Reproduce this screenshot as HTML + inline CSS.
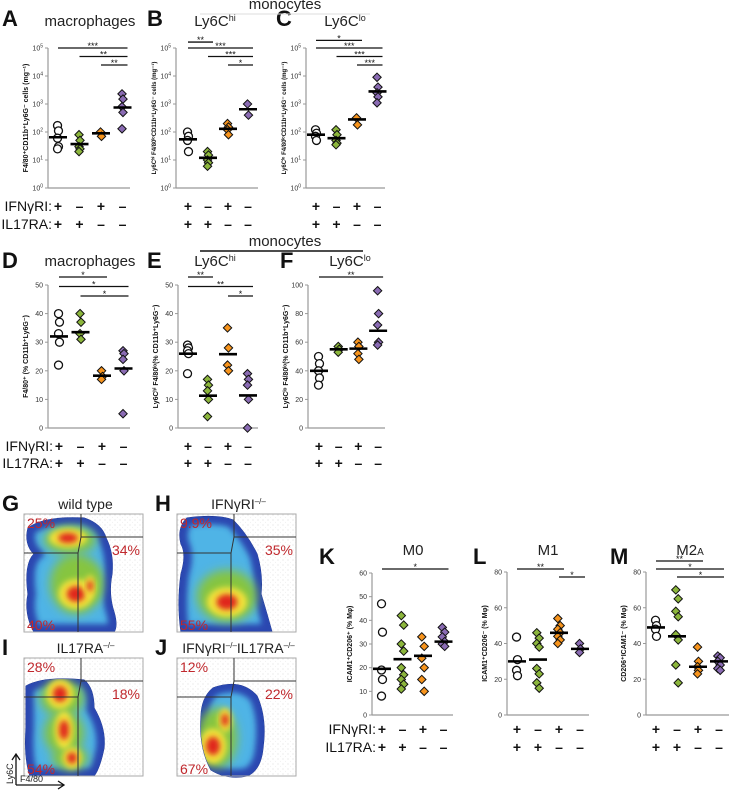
<!DOCTYPE html>
<html><head><meta charset="utf-8"><style>
html,body{margin:0;padding:0;background:#fff;}
svg{display:block;font-family:"Liberation Sans",Arial,sans-serif;}
</style></head><body>
<svg id="fig" width="738" height="793" viewBox="0 0 738 793" xmlns="http://www.w3.org/2000/svg">
<defs>
<filter id="blur3" x="-50%" y="-50%" width="200%" height="200%"><feGaussianBlur stdDeviation="3"/></filter>
<filter id="blur5" x="-50%" y="-50%" width="200%" height="200%"><feGaussianBlur stdDeviation="5"/></filter>
<pattern id="dots" width="5" height="5" patternUnits="userSpaceOnUse"><circle cx="1" cy="1" r="0.45" fill="#666"/><circle cx="3.5" cy="3.2" r="0.35" fill="#888"/></pattern>
</defs>
<g id="charts"></g>
<g id="flows"></g>
</svg>
<script>
// ---------- DATA ----------
var groups = ["wt","ifngr","il17ra","dko"];
var aWT=[170,110,60,30,25], aGr=[80,50,30,25,20], aOr=[100,70], aPu=[2300,1500,800,500,130];
var aMean=[65,37,90,750];
var bWT=[100,70,50,20], bGr=[20,15,10,8,6], bOr=[200,150,120,80], bPu=[1000,400];
var bMean=[55,12,130,650];
var cWT=[120,90,70,50], cGr=[120,80,50,40,35], cOr=[320,180], cPu=[9000,4000,2500,1800,1100];
var cMean=[80,60,280,2800];
var dWT=[40,37,33,30,22], dGr=[40,37,33,31], dOr=[20,18,17], dPu=[27,26,24,20,5];
var dMean=[32,33.5,18.3,20.8];
var eWT=[29,28,27,26,19], eGr=[17,15,13,10,4], eOr=[35,28,22,20], ePu=[19,17,15,10,0];
var eMean=[26,11.3,25.8,11.4];
var fWT=[50,45,40,35,30], fGr=[57,55,53], fOr=[60,57,52,48], fPu=[96,80,72,60,58];
var fMean=[40,55,55.5,68];
var kWT=[47,35,19,15,8], kGr=[42,38,30,27,20,17,15,13,11], kOr=[33,29,24,20,15,10], kPu=[37,35,33,31,30,29];
var kMean=[19.5,23.6,25,31];
var lWT=[43.6,31,25,22], lGr=[46,43,40,38,26,23,18,15], lOr=[54,50,48,46,44,42,40], lPu=[40,37,35];
var lMean=[30,31,46,37];
var mWT=[53,50,48,44], mGr=[70,65,58,55,45,42,28,18], mOr=[38,30,27,25,23], mPu=[33,32,30,28,26,25];
var mMean=[49,44,27,30];
var logTicks=[0,1,2,3,4,5];
var ticks50=[0,10,20,30,40,50], ticks100=[0,20,40,60,80,100], ticks60=[0,10,20,30,40,50,60], ticks80=[0,20,40,60,80];
var ifnRow=["+","–","+","–"], ilRow=["+","+","–","–"];
// significance: [from, to, label, level]
var sigA=[[0,3,"***",0],[1,3,"**",1],[2,3,"**",2]];
var sigB=[[0,1,"**",-0.7],[0,3,"***",0],[1,3,"***",1],[2,3,"*",2]];
var sigC=[[0,2,"*",-0.9],[0,3,"***",0],[1,3,"***",1],[2,3,"***",2]];
var sigD=[[0,2,"*",0],[0,3,"*",1],[1,3,"*",2]];
var sigE=[[0,1,"**",0],[0,3,"**",1],[2,3,"*",2]];
var sigF=[[0,3,"**",0]];
var sigK=[[0,3,"*",0]];
var sigL=[[0,2,"**",0],[2,3,"*",1]];
var sigM=[[0,2,"**",-1],[0,3,"*",0],[1,3,"*",1]];

var NS="http://www.w3.org/2000/svg";
var root=document.getElementById('charts');
var colors={wt:"#fff",ifngr:"#8cb63c",il17ra:"#f7941d",dko:"#8a6bb3"};
function mk(tag,attrs,parent,txt){var e=document.createElementNS(NS,tag);for(var k in attrs)e.setAttribute(k,attrs[k]);if(txt!==undefined)e.textContent=txt;(parent||root).appendChild(e);return e;}

function panel(cfg, series, means, sig){
  var g=mk('g',{});
  
  
  var ys;
  if(cfg.log){ys=function(v){var l=Math.log10(Math.max(v,1));return cfg.bottom-(l/5)*(cfg.bottom-cfg.top);};}
  else {ys=function(v){return cfg.bottom-(v/cfg.ymax)*(cfg.bottom-cfg.top);};}
  var xs=function(i){return cfg.cat0+i*cfg.step;};
  var ya=mk('line',{x1:cfg.ax,y1:cfg.top,x2:cfg.ax,y2:cfg.bottom,stroke:"#999","stroke-width":1.2},g);
  
  
  var xa=mk('line',{x1:cfg.ax,y1:cfg.bottom,x2:cfg.xend,y2:cfg.bottom,stroke:"#999","stroke-width":1.2},g);
  
  
  cfg.ticks.forEach(function(t){
    var y=cfg.log?ys(Math.pow(10,t)):ys(t);
    mk('line',{x1:cfg.ax-3,y1:y,x2:cfg.ax,y2:y,stroke:"#999","stroke-width":1},g);
    var tx=mk('text',{x:cfg.ax-5,y:y+2.5,"font-size":7,"text-anchor":"end",fill:"#333"},g);
    
    
    if(cfg.log){tx.textContent="10";mk('tspan',{"font-size":5,dy:-3},tx,String(t));}
    else tx.textContent=String(t);
  });
  var yt=mk('text',{transform:"translate("+(cfg.ax-20)+","+((cfg.top+cfg.bottom)/2)+") rotate(-90)","font-size":cfg.ytSize||7,"font-weight":"bold","text-anchor":"middle",fill:"#111"},g,cfg.ytitle);
  
  
  var tt=mk('text',{x:cfg.tx,y:cfg.ty,"font-size":15,"text-anchor":"middle",fill:"#222"},g,cfg.title);
  if(cfg.sup) mk('tspan',{"font-size":9,dy:-5},tt,cfg.sup);
  if(cfg.sub) mk('tspan',{"font-size":10},tt,cfg.sub);
  
  
  var lt=mk('text',{x:cfg.lx,y:cfg.ly,"font-size":22,"font-weight":"bold",fill:"#111"},g,cfg.id);
  
  
  series.forEach(function(arr,gi){
    arr.forEach(function(v,pi){
      var x=xs(gi)+((pi%2)?1.2:-1.2)*(arr.length>5?1:0.4), y=ys(v);
      var p;
      if(gi===0){p=mk('circle',{cx:x,cy:y,r:4,fill:"#fff",stroke:"#111","stroke-width":1.3},g);}
      else {var s=4.2;p=mk('path',{d:"M"+x+","+(y-s)+"L"+(x+s)+","+y+"L"+x+","+(y+s)+"L"+(x-s)+","+y+"Z",fill:colors[groups[gi]],stroke:"#111","stroke-width":1},g);}
      
      
    });
    var m=mk('line',{x1:xs(gi)-9,y1:ys(means[gi]),x2:xs(gi)+9,y2:ys(means[gi]),stroke:"#000","stroke-width":2.6},g);
    
    
  });
  sig.forEach(function(s){
    var y=cfg.sigY+s[3]*cfg.sigStep;
    var l=mk('line',{x1:xs(s[0]),y1:y,x2:xs(s[1])+5,y2:y,stroke:"#111","stroke-width":1.3},g);
    
    
    var st=mk('text',{x:(xs(s[0])+xs(s[1])+5)/2,y:y+1,"font-size":9,"text-anchor":"middle",fill:"#111"},g,s[2]);
    
    
  });
  [ifnRow,ilRow].forEach(function(row,ri){
    row.forEach(function(c,i){
      var t=mk('text',{x:xs(i),y:cfg.rowY+ri*cfg.rowStep,"font-size":14,"font-weight":"bold","text-anchor":"middle",fill:"#111"},g,c);
      
      
    });
  });
  if(cfg.rowLabels){
    ["IFNγRI:","IL17RA:"].forEach(function(lab,ri){
      var t=mk('text',{x:cfg.cat0-6,y:cfg.rowY+ri*cfg.rowStep,"font-size":14,"text-anchor":"end",fill:"#111"},g,lab);
      
      
    });
  }
}

var logTitle1="F4/80⁺CD11b⁺Ly6G⁻ cells (mg⁻¹)";
panel({id:"A",log:true,ax:48,top:48,bottom:188,cat0:58,step:21.5,xend:130,ticks:logTicks,ytitle:logTitle1,title:"macrophages",tx:90,ty:26,lx:2,ly:26,sigY:48,sigStep:8.5,rowY:211,rowStep:18,rowLabels:true},[aWT,aGr,aOr,aPu],aMean,sigA);
panel({id:"B",log:true,ax:176,top:48,bottom:188,cat0:188,step:20,xend:258,ticks:logTicks,ytitle:"Ly6Cʰⁱ F4/80ˡᵒCD11b⁺Ly6G⁻ cells (mg⁻¹)",ytSize:6,title:"Ly6C",sup:"hi",tx:215,ty:26,lx:147,ly:26,sigY:48,sigStep:8.5,rowY:211,rowStep:18},[bWT,bGr,bOr,bPu],bMean,sigB);
panel({id:"C",log:true,ax:306,top:48,bottom:188,cat0:316,step:20.5,xend:385,ticks:logTicks,ytitle:"Ly6Cˡᵒ F4/80ˡᵒCD11b⁺Ly6G⁻ cells (mg⁻¹)",ytSize:6,title:"Ly6C",sup:"lo",tx:345,ty:26,lx:276,ly:26,sigY:48,sigStep:8.5,rowY:211,rowStep:18},[cWT,cGr,cOr,cPu],cMean,sigC);
panel({id:"D",log:false,ymax:50,ax:48,top:285,bottom:428,cat0:59,step:21.5,xend:130,ticks:ticks50,ytitle:"F4/80⁺ (% CD11b⁺Ly6G⁻)",title:"macrophages",tx:90,ty:266,lx:2,ly:268,sigY:277,sigStep:9.5,rowY:451,rowStep:17,rowLabels:true},[dWT,dGr,dOr,dPu],dMean,sigD);
panel({id:"E",log:false,ymax:50,ax:178,top:285,bottom:428,cat0:188,step:20,xend:258,ticks:ticks50,ytitle:"Ly6Cʰⁱ F4/80ˡᵒ(% CD11b⁺Ly6G⁻)",title:"Ly6C",sup:"hi",tx:215,ty:266,lx:147,ly:268,sigY:277,sigStep:9.5,rowY:451,rowStep:17},[eWT,eGr,eOr,ePu],eMean,sigE);
panel({id:"F",log:false,ymax:100,ax:308,top:285,bottom:428,cat0:319,step:19.7,xend:385,ticks:ticks100,ytitle:"Ly6Cˡᵒ F4/80ˡᵒ(% CD11b⁺Ly6G⁻)",title:"Ly6C",sup:"lo",tx:350,ty:266,lx:280,ly:268,sigY:277,sigStep:9.5,rowY:451,rowStep:17},[fWT,fGr,fOr,fPu],fMean,sigF);
panel({id:"K",log:false,ymax:60,ax:372,top:573,bottom:715,cat0:382,step:20.5,xend:453,ticks:ticks60,ytitle:"ICAM1⁺CD206⁺ (% Mφ)",title:"M0",tx:413,ty:555,lx:319,ly:564,sigY:569,sigStep:8,rowY:734,rowStep:18,rowLabels:true},[kWT,kGr,kOr,kPu],kMean,sigK);
panel({id:"L",log:false,ymax:80,ax:507,top:572,bottom:715,cat0:517,step:21,xend:589,ticks:ticks80,ytitle:"ICAM1⁺CD206⁻ (% Mφ)",title:"M1",tx:548,ty:555,lx:473,ly:564,sigY:569,sigStep:8,rowY:734,rowStep:18},[lWT,lGr,lOr,lPu],lMean,sigL);
panel({id:"M",log:false,ymax:80,ax:646,top:572,bottom:715,cat0:656,step:21,xend:729,ticks:ticks80,ytitle:"CD206⁺ICAM1⁻ (% Mφ)",title:"M2",sub:"A",tx:690,ty:555,lx:610,ly:564,sigY:569,sigStep:8,rowY:734,rowStep:18},[mWT,mGr,mOr,mPu],mMean,sigM);

[[285,9,200,370,"#ddd",1],[285,246,200,363,"#111",1.5]].forEach(function(h){
  var t=mk('text',{x:h[0],y:h[1],"font-size":15,"text-anchor":"middle",fill:"#222"},root,"monocytes");
  
  
  var l=mk('line',{x1:h[2],y1:h[1]+5,x2:h[3],y2:h[1]+5,stroke:h[4],"stroke-width":h[5]},root);
  
  
});

// ---------- FLOW PLOTS ----------
var flowRoot=document.getElementById('flows');
var flowPcts=[["25%","34%","40%"],["9.9%","35%","55%"],["28%","18%","54%"],["12%","22%","67%"]];
var flowTitles=[["wild type",""],["IFNγRI","–/–"],["IL17RA","–/–"],["IFNγRI","–/–","IL17RA","–/–"]];
var flowLetters=["G","H","I","J"];
function flow(i,ox,oy,blob,greens,hot){
  var w=119,h=118;
  var g=mk('g',{transform:"translate("+ox+","+oy+")"},flowRoot);
  
  
  mk('rect',{x:0,y:0,width:w,height:h,fill:"url(#dots)",opacity:0.35},g);
  var cp=mk('clipPath',{id:"cp"+i},g);
  mk('path',{d:blob},cp);
  mk('path',{d:blob,fill:"#2b46b0",stroke:"#1e2f8c","stroke-width":1},g);
  var inner=mk('g',{"clip-path":"url(#cp"+i+")"},g);
  mk('path',{d:blob,fill:"none",stroke:"#2b46b0","stroke-width":14,filter:"url(#blur3)"},inner);
  var core=mk('g',{},inner);
  // light-blue core: blob shrunk via thick blue stroke overlay
  mk('path',{d:blob,fill:"#4fb4e6"},core);
  mk('path',{d:blob,fill:"none",stroke:"#2b46b0","stroke-width":16,filter:"url(#blur3)"},inner);
  greens.forEach(function(e){
    mk('ellipse',{cx:e[0],cy:e[1],rx:e[2],ry:e[3],fill:"#86c540",filter:"url(#blur5)"},inner);
  });
  hot.forEach(function(e){
    mk('ellipse',{cx:e[0],cy:e[1],rx:e[2]*1.35,ry:e[3]*1.35,fill:"#f2e23a",filter:"url(#blur3)"},inner);
    mk('ellipse',{cx:e[0],cy:e[1],rx:e[2]*0.7,ry:e[3]*0.7,fill:"#e0281f",filter:"url(#blur3)"},inner);
  });
  mk('rect',{x:0,y:0,width:w,height:h,fill:"none",stroke:"#aaa","stroke-width":1},g);
  mk('path',{d:"M57,0 L57,23 L54,39 L54,"+h+" M0,39 L54,39 M57,23 L"+w+",23",fill:"none",stroke:"#333","stroke-width":1},g);
  [[3,14,"start"],[w-3,41,"end"],[3,h-2,"start"]].forEach(function(p,k){
    var t=mk('text',{x:p[0],y:p[1],"font-size":14,"text-anchor":p[2],fill:"#c0282d"},g,flowPcts[i][k]);
    
    
  });
  var tt=mk('text',{x:w/2+2,y:-5,"font-size":14,"text-anchor":"middle",fill:"#222"},g);
  var parts=flowTitles[i];
  for(var k=0;k<parts.length;k++){
    if(k%2===0) mk('tspan',{dy:(k>0?5:0)},tt,parts[k]);
    else if(parts[k]) mk('tspan',{"font-size":8,dy:-5},tt,parts[k]);
  }
  
  
  var lt=mk('text',{x:-22,y:-3,"font-size":22,"font-weight":"bold",fill:"#111"},g,flowLetters[i]);
  
  
}
flow(0,24,514,"M4,14 Q20,2 60,4 Q78,10 82,24 Q90,40 88,60 Q84,80 90,98 Q94,112 90,118 L10,118 Q0,100 4,80 Q0,50 10,40 Q0,30 4,14Z",
  [[46,26,26,14],[52,70,26,30],[66,70,10,18]],
  [[44,24,14,7],[52,80,13,11],[66,72,4,8]]);
flow(1,177,514,"M10,4 Q40,0 56,6 Q70,20 80,40 Q86,60 84,80 Q90,100 95,118 L4,118 Q0,90 4,60 Q10,40 4,30 Q0,14 10,4Z",
  [[50,82,30,26]],
  [[50,88,15,11]]);
flow(2,24,658,"M2,28 Q20,18 60,22 Q70,30 70,50 Q82,70 80,90 Q76,110 70,118 L6,118 Q0,100 2,70 Z",
  [[38,40,22,18],[40,75,20,22],[46,100,18,12]],
  [[36,36,10,11],[40,72,7,14],[48,100,7,8]]);
flow(3,177,658,"M36,30 Q64,20 80,38 Q90,60 86,90 Q84,112 70,118 Q50,122 34,112 Q22,90 24,60 Q24,40 36,30Z",
  [[40,80,20,30]],
  [[36,88,10,13],[48,62,5,9]]);
var ar=mk('path',{d:"M16,785 L16,755 M12,760 L16,754 L20,760 M16,785 L64,785 M58,781 L64,785 L58,789",fill:"none",stroke:"#111","stroke-width":1.3},flowRoot);


var ay=mk('text',{transform:"translate(13,784) rotate(-90)","font-size":9,fill:"#222"},flowRoot,"Ly6C");


var ax=mk('text',{x:20,y:782,"font-size":9,fill:"#222"},flowRoot,"F4/80");


</script>
</body></html>
